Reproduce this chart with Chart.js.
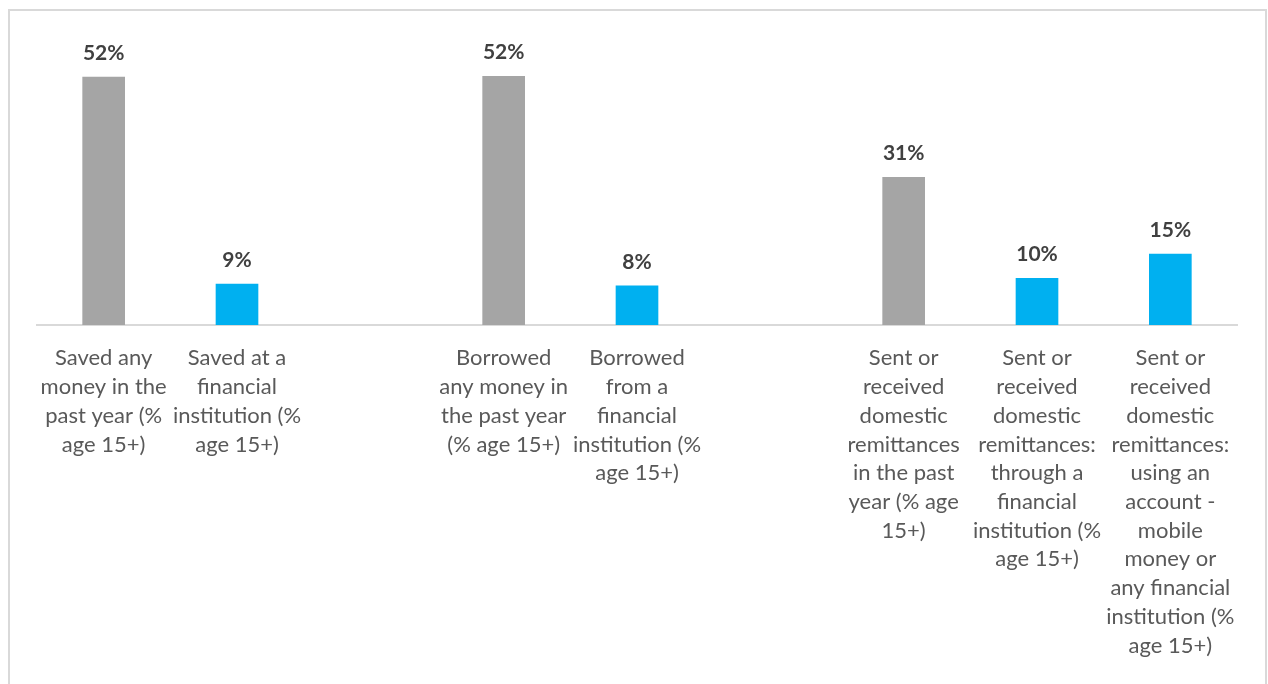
<!DOCTYPE html>
<html>
<head>
<meta charset="utf-8">
<script src="https://cdn.jsdelivr.net/npm/chart.js@4.4.1/dist/chart.umd.min.js"></script>
<style>
  html, body { margin: 0; padding: 0; background: #fff; overflow: hidden; }
  #frame { position: absolute; left: 8px; top: 9px; width: 1255px; height: 700px; border: 2px solid #d9d9d9; }
  #wrap { position: absolute; left: 0; top: 0; width: 1268px; height: 684px; }
</style>
</head>
<body>
<div id="frame"></div>
<div id="wrap"><canvas id="myChart"></canvas></div>
<script>
// categories (empty slots are the gaps between groups)
var categories = [
  ["Saved any", "money in the", "past year (%", "age 15+)"],
  ["Saved at a", "financial", "institution (%", "age 15+)"],
  [""],
  ["Borrowed", "any money in", "the past year", "(% age 15+)"],
  ["Borrowed", "from a", "financial", "institution (%", "age 15+)"],
  [""],
  ["Sent or", "received", "domestic", "remittances", "in the past", "year (% age", "15+)"],
  ["Sent or", "received", "domestic", "remittances:", "through a", "financial", "institution (%", "age 15+)"],
  ["Sent or", "received", "domestic", "remittances:", "using an", "account -", "mobile", "money or", "any financial", "institution (%", "age 15+)"]
];
var values = [52, 8.6, null, 52.2, 8.2, null, 31, 9.8, 14.9];
var barColors = ["#a5a5a5", "#00b0f0", "#ffffff", "#a5a5a5", "#00b0f0", "#ffffff", "#a5a5a5", "#00b0f0", "#00b0f0"];

var valueLabels = {
  id: "valueLabels",
  afterDatasetsDraw: function(chart) {
    var ctx = chart.ctx;
    var meta = chart.getDatasetMeta(0);
    ctx.save();
    ctx.font = "bold 21px Lato";
    ctx.fillStyle = "#404040";
    ctx.textAlign = "center";
    ctx.textBaseline = "middle";
    meta.data.forEach(function(bar, i) {
      if (values[i] == null) return;
      ctx.fillText(Math.round(values[i]) + "%", bar.x, bar.y - 24);
    });
    ctx.restore();
  }
};

new Chart("myChart", {
  type: "bar",
  data: {
    labels: categories,
    datasets: [{
      data: values,
      backgroundColor: barColors,
      barThickness: 42
    }]
  },
  options: {
    responsive: true,
    maintainAspectRatio: false,
    animation: false,
    layout: { padding: { left: 37, right: 31, top: 20, bottom: 0 } },
    plugins: { legend: { display: false }, tooltip: { enabled: false } },
    scales: {
      y: { display: false, min: 0, max: 64 },
      x: {
        grid: { display: false, drawTicks: false },
        border: { display: true, color: "#d9d9d9", width: 2 },
        ticks: {
          autoSkip: false,
          maxRotation: 0,
          minRotation: 0,
          padding: 19,
          color: "#595959",
          font: { family: "Lato", size: 22, lineHeight: 1.305 }
        },
        afterFit: function(scale) { scale.height = 684 - 325; }
      }
    }
  },
  plugins: [valueLabels]
});
</script>
</body>
</html>
